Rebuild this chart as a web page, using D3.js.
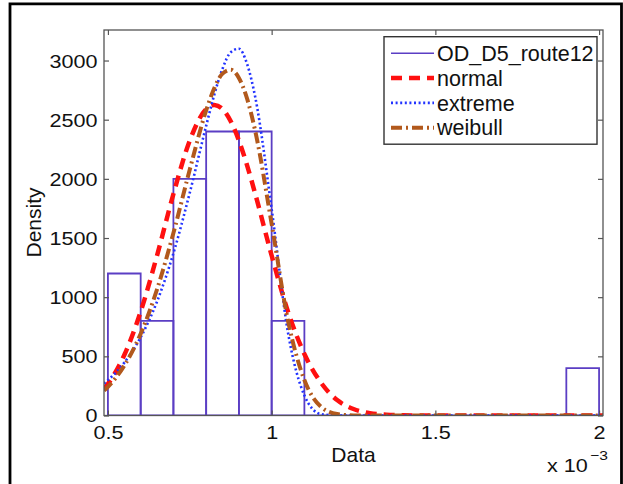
<!DOCTYPE html>
<html>
<head>
<meta charset="utf-8">
<script src="https://cdn.jsdelivr.net/npm/d3@7"></script>
<style>
  body { margin: 0; background: #fff; }
  text { font-family: "Liberation Sans", Arial, sans-serif; fill: #111; }
</style>
</head>
<body>
<div class="container"></div>
<script>
const WIDTH = 623;
const HEIGHT = 484;
const LEFT = 104, RIGHT = 603, TOP = 30, BOTTOM = 415.5;
const STRETCH = 1.2; // tick labels look horizontally stretched

// histogram (x in units of 1e-3)
const binEdges = [0.5, 0.6, 0.7, 0.8, 0.9, 1.0, 1.1, 1.2, 1.3, 1.4, 1.5, 1.6, 1.7, 1.8, 1.9, 2.0];
const binHeights = [1200, 800, 2000, 2400, 2400, 800, 0, 0, 0, 0, 0, 0, 0, 0, 400];

// fitted curves
const curveX = [0.488, 0.5, 0.55, 0.6, 0.65, 0.7, 0.75, 0.8, 0.825, 0.85, 0.875, 0.9, 0.925, 0.95,
                1.0, 1.05, 1.1, 1.15, 1.2, 1.25, 1.3, 1.35, 1.4, 1.5, 1.6, 1.7, 1.8, 1.9, 2.0, 2.012];
const normalY = [225, 267, 511, 878, 1352, 1872, 2324, 2590, 2625, 2590, 2487, 2324, 2114, 1872,
                 1352, 878, 520, 280, 130, 55, 20, 7, 2, 0, 0, 0, 0, 0, 0, 0];
const extremeY = [270, 299, 447, 661, 963, 1371, 1883, 2448, 2713, 2931, 3070, 3100, 2971, 2690,
                  1745, 700, 170, 12, 0, 0, 0, 0, 0, 0, 0, 0, 0, 0, 0, 0];
const weibullY = [210, 242, 422, 691, 1066, 1542, 2079, 2578, 2768, 2889, 2922, 2853, 2678, 2403,
                  1620, 800, 300, 75, 12, 1, 0, 0, 0, 0, 0, 0, 0, 0, 0, 0];

const xTicks = [0.5, 1, 1.5, 2];
const yTicks = [0, 500, 1000, 1500, 2000, 2500, 3000];
const legendLabels = ["OD_D5_route12", "normal", "extreme", "weibull"];

var svg = d3.select('.container').append('svg')
    .attr('width', WIDTH)
    .attr('height', HEIGHT);

// outer frame (no bottom edge)
svg.append('path')
    .attr('d', 'M10,484 V3.8 H621.5 V484')
    .attr('fill', 'none')
    .attr('stroke', '#000')
    .attr('stroke-width', 2.8);

var xScale = d3.scaleLinear().domain([0.488, 2.012]).range([LEFT, RIGHT]);
var yScale = d3.scaleLinear().domain([0, 3258]).range([BOTTOM, TOP]);

svg.append('clipPath').attr('id', 'plot')
  .append('rect')
    .attr('x', LEFT).attr('y', TOP)
    .attr('width', RIGHT - LEFT).attr('height', BOTTOM - TOP);

// histogram bins as open bars
var hist = svg.append('g').attr('clip-path', 'url(#plot)');
hist.selectAll('path')
    .data(binHeights)
    .enter().append('path')
    .attr('d', function(d, i) {
        var x0 = xScale(binEdges[i]), x1 = xScale(binEdges[i + 1]);
        var y0 = yScale(0), y1 = yScale(d);
        return 'M' + x0 + ',' + y0 + 'V' + y1 + 'H' + x1 + 'V' + y0 + 'Z';
    })
    .attr('fill', 'none')
    .attr('stroke', '#5b3ec4')
    .attr('stroke-width', 1.8);

var line = d3.line()
    .curve(d3.curveMonotoneX)
    .x(function(d, i) { return xScale(curveX[i]); })
    .y(function(d) { return yScale(d); });

var styles = [
    {data: normalY, color: '#ff1010', width: 4.5, dash: '11,7'},
    {data: extremeY, color: '#2233ff', width: 2.6, dash: '2,2.6'},
    {data: weibullY, color: '#b2591c', width: 4, dash: '11,4,2,4'}
];

var curves = svg.append('g').attr('clip-path', 'url(#plot)');
styles.forEach(function(s) {
    curves.append('path')
        .attr('d', line(s.data))
        .attr('fill', 'none')
        .attr('stroke', s.color)
        .attr('stroke-width', s.width)
        .attr('stroke-dasharray', s.dash);
});

// axes box
svg.append('rect')
    .attr('x', LEFT).attr('y', TOP)
    .attr('width', RIGHT - LEFT).attr('height', BOTTOM - TOP)
    .attr('fill', 'none')
    .attr('stroke', '#555')
    .attr('stroke-width', 1.3);

var xAxis = svg.append('g')
    .attr('transform', 'translate(0,' + BOTTOM + ')')
    .call(d3.axisBottom(xScale).tickValues(xTicks).tickSizeInner(-5).tickSizeOuter(0)
        .tickFormat(function(d) { return String(d); }));
var yAxis = svg.append('g')
    .attr('transform', 'translate(' + LEFT + ',0)')
    .call(d3.axisLeft(yScale).tickValues(yTicks).tickSizeInner(-5).tickSizeOuter(0)
        .tickFormat(d3.format('d')));
svg.append('g')
    .attr('transform', 'translate(0,' + TOP + ')')
    .call(d3.axisTop(xScale).tickValues(xTicks).tickSizeInner(-5).tickSizeOuter(0).tickFormat(''));
svg.append('g')
    .attr('transform', 'translate(' + RIGHT + ',0)')
    .call(d3.axisRight(yScale).tickValues(yTicks).tickSizeInner(-5).tickSizeOuter(0).tickFormat(''));

svg.selectAll('.domain').remove();
svg.selectAll('.tick line').attr('stroke', '#555').attr('stroke-width', 1.2);

xAxis.selectAll('text')
    .attr('y', 24).attr('dy', null)
    .attr('transform', 'scale(' + STRETCH + ',1)')
    .style('font-size', '18px');
yAxis.selectAll('text')
    .attr('x', -6.5 / STRETCH).attr('dy', '0.36em')
    .attr('transform', 'scale(' + STRETCH + ',1)')
    .style('font-size', '18px');
xAxis.attr('font-family', null);
yAxis.attr('font-family', null);

// axis labels
svg.append('text')
    .attr('x', (LEFT + RIGHT) / 2).attr('y', 461.5)
    .attr('text-anchor', 'middle')
    .style('font-size', '21px')
    .text('Data');
svg.append('text')
    .attr('transform', 'translate(41,222.5) rotate(-90)')
    .attr('text-anchor', 'middle')
    .style('font-size', '21px')
    .text('Density');

// exponent note
var expo = svg.append('g').attr('transform', 'translate(547,471.5) scale(' + STRETCH + ',1)');
expo.append('text').style('font-size', '18px').text('x 10');
expo.append('text').attr('x', 36).attr('y', -12).style('font-size', '13px').text('\u22123');

// legend
var legend = svg.append('g');
legend.append('rect')
    .attr('x', 384).attr('y', 36.7)
    .attr('width', 213).attr('height', 107.5)
    .attr('fill', '#fff')
    .attr('stroke', '#333')
    .attr('stroke-width', 1.4);

var legendStyles = [{color: '#5b3ec4', width: 1.6, dash: null}].concat(styles);
var rows = legend.selectAll('g.row')
    .data(legendLabels)
    .enter().append('g')
    .attr('class', 'row')
    .attr('transform', function(d, i) { return 'translate(0,' + (53.3 + i * 24.8) + ')'; });
rows.append('line')
    .attr('x1', 391).attr('x2', 434)
    .attr('stroke', function(d, i) { return legendStyles[i].color; })
    .attr('stroke-width', function(d, i) { return legendStyles[i].width; })
    .attr('stroke-dasharray', function(d, i) { return legendStyles[i].dash; });
rows.append('text')
    .attr('x', 437).attr('dy', '0.36em')
    .style('font-size', '21.5px')
    .text(function(d) { return d; });
</script>
</body>
</html>
